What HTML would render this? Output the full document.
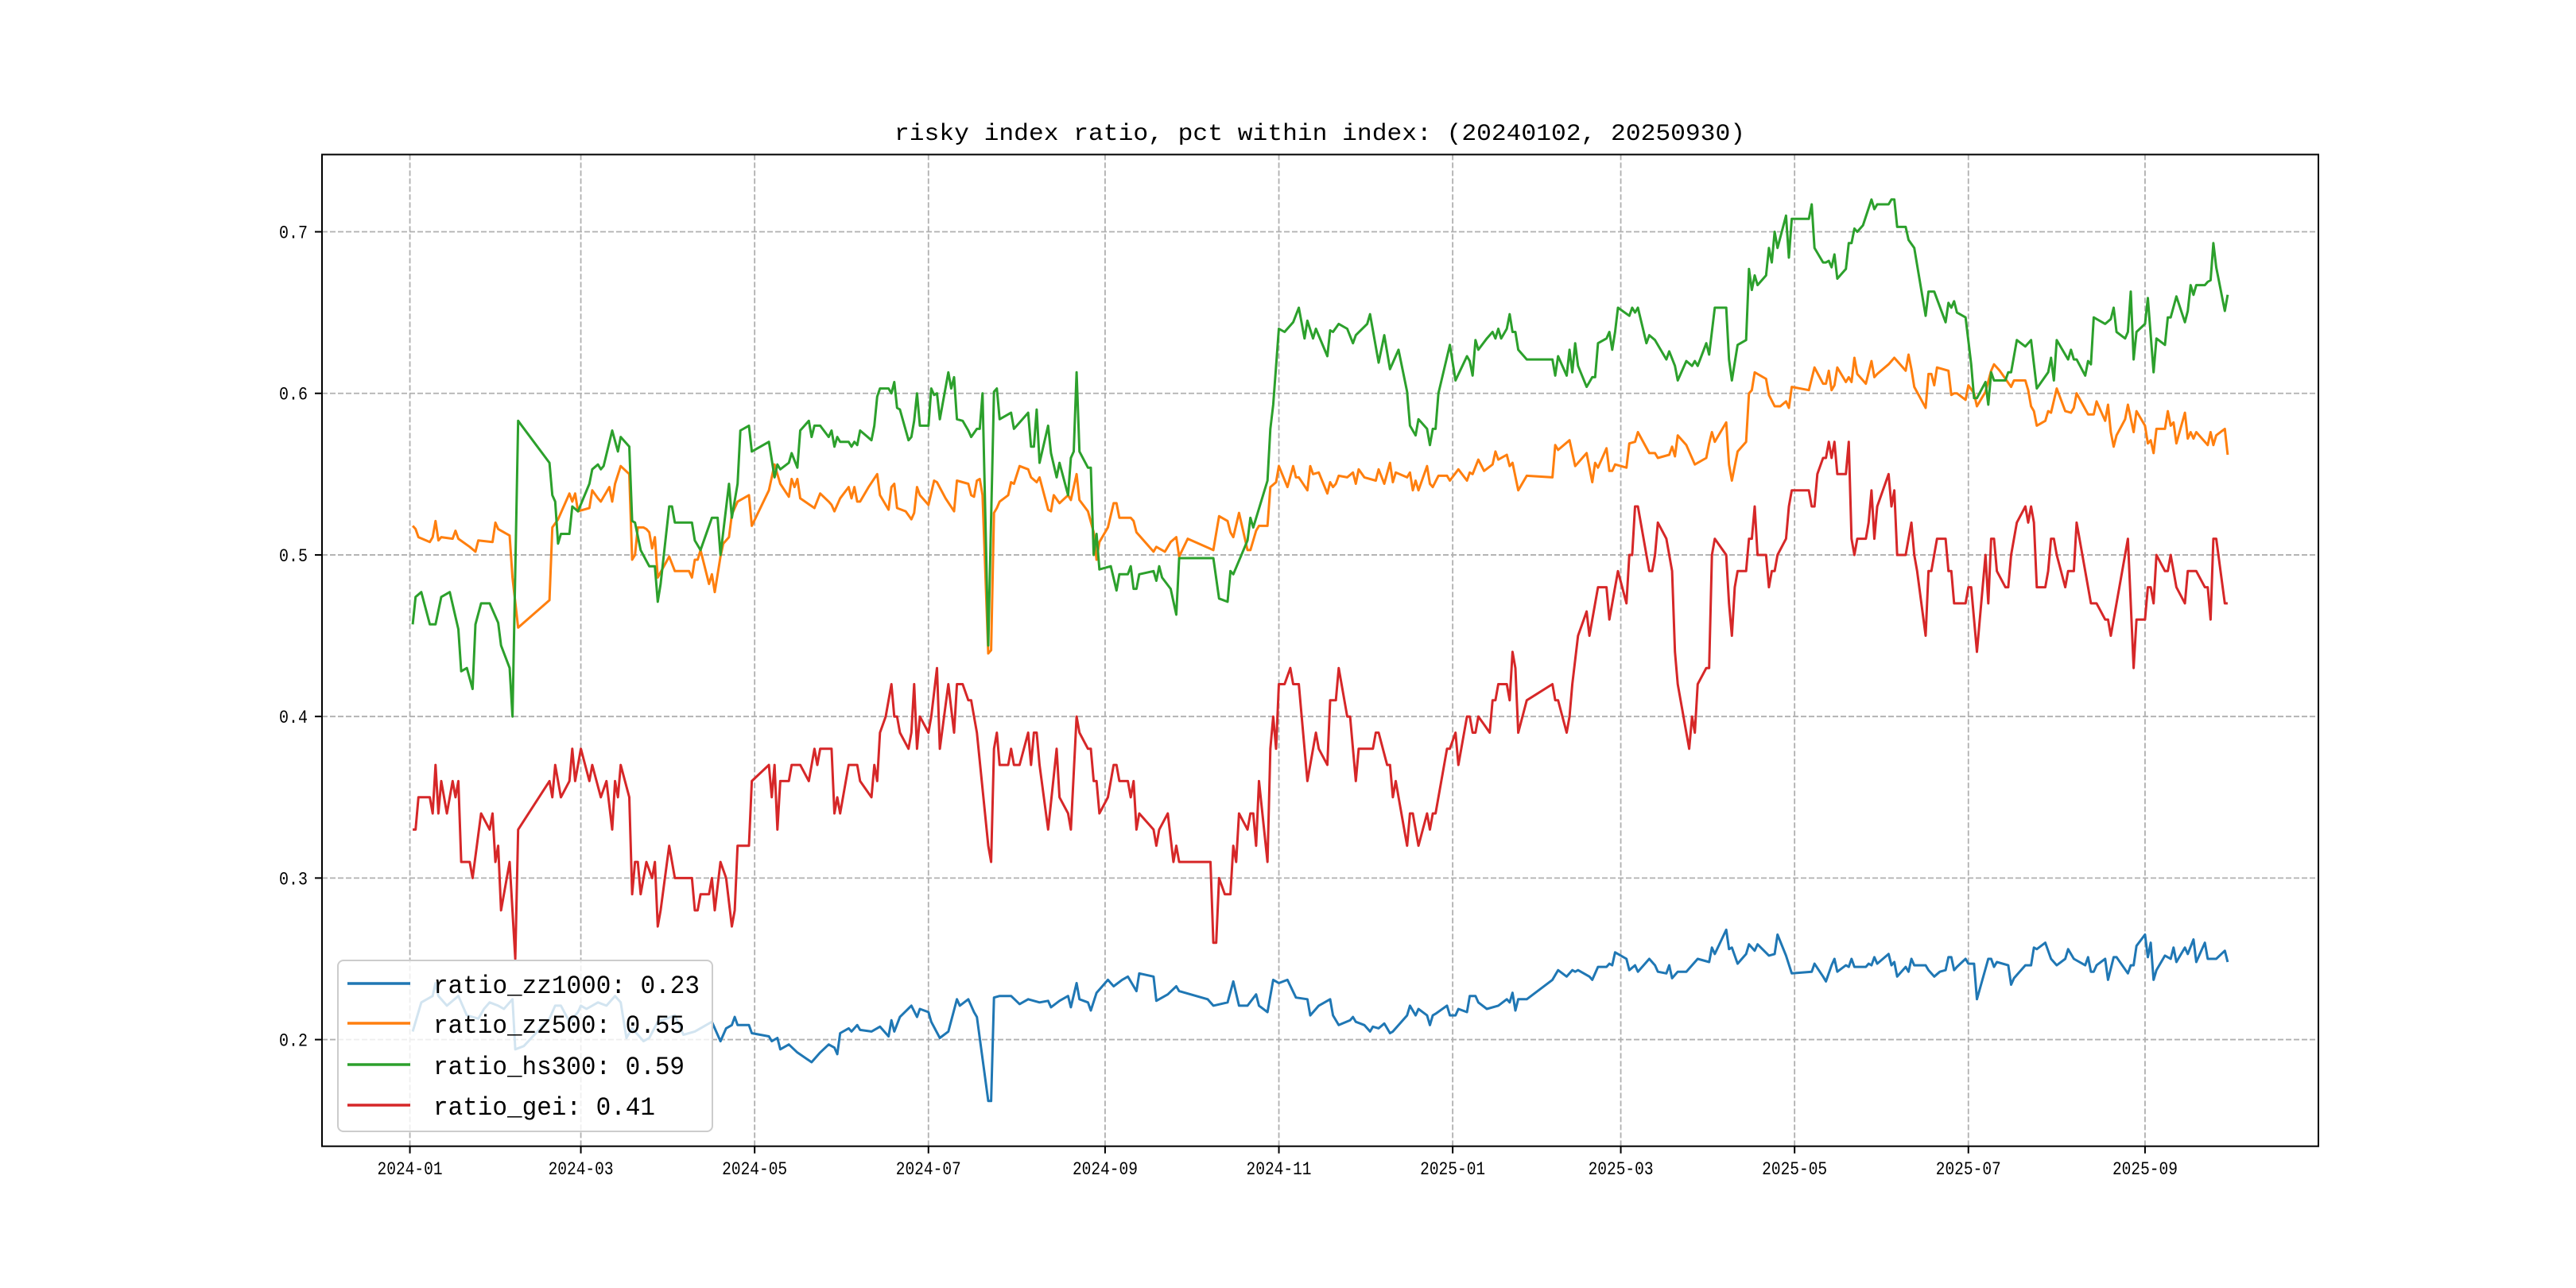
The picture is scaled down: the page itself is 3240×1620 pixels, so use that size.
<!DOCTYPE html>
<html>
<head>
<meta charset="utf-8">
<style>
  html,body{margin:0;padding:0;background:#fff;}
  #chart{display:block;}
  text{font-family:"Liberation Mono","WenQuanYi Zen Hei",monospace;fill:#000;}
</style>
</head>
<body>
<svg id="chart" width="3240" height="1620" viewBox="0 0 3240 1620" xmlns="http://www.w3.org/2000/svg">
  <rect x="0" y="0" width="3240" height="1620" fill="#ffffff"/>
  <text x="1660" y="176" font-size="30" text-anchor="middle" textLength="1070" lengthAdjust="spacingAndGlyphs">risky index ratio, pct within index: (20240102, 20250930)</text>
  <g id="grid"></g>
  <g id="plot" clip-path="url(#clip)"></g>
  <defs><clipPath id="clip"><rect x="405" y="194.4" width="2511" height="1247.3"/></clipPath></defs>
  <rect x="405" y="194.4" width="2511" height="1247.3" fill="none" stroke="#000" stroke-width="2"/>
  <g id="ticks"></g>
  <g id="legend"></g>
</svg>
<script>
// ---- data (days since 2024-01-01, values) ----
const xTickLabels = ["2024-01","2024-03","2024-05","2024-07","2024-09","2024-11","2025-01","2025-03","2025-05","2025-07","2025-09"];
const yTickValues = [0.2,0.3,0.4,0.5,0.6,0.7];
const yTickLabels = ["0.2","0.3","0.4","0.5","0.6","0.7"];
const seriesNames = ["ratio_zz1000","ratio_zz500","ratio_hs300","ratio_gei"];
const seriesLatest = ["0.23","0.55","0.59","0.41"];

const zz1000Days = [1,2,4,8,9,10,13,17,20,24,26,28,31,33,36,37,40,49,51,53,56,59,60,62,66,69,72,74,76,78,82,84,87,93,96,100,106,107,109,111,113,114,115,119,120,126,127,129,130,133,136,141,144,147,
149,150,151,154,155,157,158,162,165,168,169,170,172,176,178,179,182,183,186,189,192,193,196,198,199,203,204,205,207,211,214,217,221,224,225,228,231,232,234,235,238,239,241,245,247,250,252,255,256,261,262,266,269,270,280,282,287,289,291,294,297,298,301,303,305,308,311,315,316,319,322,
323,324,326,330,331,332,335,337,338,340,342,344,345,350,351,353,354,357,358,359,360,364,365,367,368,371,372,374,375,378,382,385,386,387,388,389,392,401,403,406,408,409,410,414,415,417,420,421,422,423,427,428,430,431,435,437,438,441,442,443,445,448,452,456,457,458,462,463,464,466,469,470,472,473,477,479,480,483,485,492,493,496,
497,499,500,501,504,505,506,507,511,512,513,514,515,519,520,521,522,525,526,527,528,532,533,535,537,539,540,541,542,543,546,547,549,550,554,555,556,557,561,562,563,567,569,570,571,574,576,578,581,582,584,588,589,590,591,592,595,596,598,599,603,604,605,606,609,610,611,612,613,616,618,619,620,623,624,626,627,630,631,633,634,637,638];
const zz1000Values = [.205,.211,.223,.227,.235,.227,.221,.227,.215,.213,.219,.223,.221,.219,.225,.194,.196,.213,.221,.221,.211,.217,.221,.219,.223,.221,.227,.223,.201,.207,.199,.201,.211,.215,.203,.205,.211,.207,.199,.207,.209,.214,.209,.209,.204,.202,.199,.201,.194,.197,.192,.186,.192,.197,
.195,.191,.204,.207,.205,.209,.206,.205,.208,.202,.212,.205,.214,.221,.214,.219,.217,.211,.201,.205,.225,.221,.225,.217,.214,.162,.162,.226,.227,.227,.222,.225,.223,.224,.220,.224,.227,.220,.235,.225,.223,.218,.229,.237,.233,.237,.239,.230,.241,.239,.224,.228,.233,.230,.225,.221,.223,.236,.221,.221,.228,.221,.217,.237,.235,.237,.226,.225,.215,.221,.224,
.225,.215,.209,.212,.214,.211,.209,.205,.208,.207,.210,.204,.205,.215,.221,.215,.219,.215,.209,.215,.216,.221,.215,.215,.219,.217,.227,.227,.223,.219,.221,.225,.223,.229,.218,.225,.225,.237,.243,.239,.243,.242,.243,.239,.237,.245,.245,.247,.246,.254,.250,.243,.246,.242,.250,.246,.242,.241,.246,.238,.242,.242,.250,.248,.257,.253,.268,.256,.257,.247,.253,.259,.255,.259,.252,.253,.265,.252,.241,.242,.247,.239,
.236,.246,.250,.242,.246,.245,.250,.245,.245,.247,.246,.251,.247,.253,.246,.248,.239,.245,.242,.250,.246,.246,.243,.239,.242,.243,.251,.251,.243,.245,.250,.247,.247,.225,.250,.250,.245,.248,.246,.234,.238,.246,.246,.257,.256,.260,.250,.246,.250,.256,.250,.246,.251,.242,.242,.246,.250,.237,.251,.251,.241,.246,.246,.258,.265,.251,.260,.237,.243,.252,.250,.257,.248,.257,.253,.262,.248,.260,.250,.250,.250,.255,.248];

const zz500Days = [1,2,3,7,8,9,10,11,15,16,17,21,23,24,29,30,31,35,36,38,49,50,52,56,57,58,59,63,64,66,67,70,71,72,74,77,78,79,80,82,83,84,85,86,87,91,93,98,99,100,101,102,105,106,107,109,110,112,113,115,119,120,126,128,130,133,134,135,136,137,142,144,147,
148,149,151,154,155,156,157,158,161,164,165,168,169,170,171,174,176,177,178,179,182,184,185,188,191,192,196,197,198,199,200,201,203,204,205,206,207,210,211,212,214,217,218,220,221,224,225,226,228,231,232,234,235,238,240,241,242,245,247,248,249,253,254,255,261,262,265,267,269,270,273,282,284,287,288,289,291,294,295,297,298,301,302,304,305,308,310,311,312,315,316,317,319,322,
323,324,325,326,329,331,332,333,335,339,340,342,344,345,346,350,351,352,353,354,357,358,359,361,364,365,368,371,372,373,375,377,380,381,382,385,386,387,389,392,401,402,403,407,409,413,415,416,417,420,421,422,423,427,428,430,431,435,437,438,442,443,444,445,448,451,455,456,457,458,462,463,464,466,469,470,471,472,476,477,479,481,483,484,485,491,493,496,
497,498,499,500,501,504,505,506,507,508,511,513,514,515,519,521,525,526,527,528,532,533,534,535,536,540,541,542,543,546,547,549,550,553,555,556,558,562,563,567,568,569,570,571,574,575,576,578,581,583,584,585,589,591,592,595,596,597,598,599,602,603,605,606,609,610,611,612,613,616,617,618,619,620,623,624,625,626,627,631,632,633,634,637,638];
const zz500Values = [.518,.516,.511,.508,.511,.521,.509,.511,.510,.515,.510,.505,.502,.509,.508,.520,.516,.512,.486,.455,.472,.517,.522,.538,.533,.538,.527,.529,.540,.535,.533,.542,.533,.544,.555,.550,.497,.500,.517,.517,.516,.514,.504,.511,.486,.499,.490,.490,.486,.497,.497,.503,.482,.488,.477,.499,.507,.511,.525,.533,.537,.518,.540,.556,.544,.536,.547,.542,.547,.535,.529,.538,.533,
.531,.527,.535,.542,.535,.542,.533,.533,.542,.550,.537,.528,.542,.544,.529,.527,.522,.526,.542,.537,.531,.546,.545,.535,.527,.546,.544,.537,.536,.546,.547,.537,.439,.441,.526,.529,.533,.537,.545,.544,.555,.553,.548,.545,.548,.528,.527,.537,.532,.537,.534,.550,.534,.527,.514,.497,.508,.517,.532,.532,.523,.523,.521,.514,.502,.505,.502,.508,.511,.499,.510,.503,.524,.521,.514,.511,.526,.503,.503,.515,.518,.518,.542,.545,.555,.542,.555,.548,.548,.540,.555,.550,.551,.538,
.545,.542,.544,.549,.548,.551,.544,.553,.548,.546,.553,.544,.557,.545,.551,.548,.551,.540,.546,.540,.555,.544,.542,.549,.549,.546,.553,.546,.551,.550,.559,.552,.556,.564,.559,.562,.555,.557,.540,.549,.548,.568,.565,.571,.555,.563,.545,.557,.554,.566,.552,.552,.556,.554,.569,.570,.576,.563,.563,.560,.562,.567,.561,.574,.568,.556,.560,.569,.576,.570,.582,.556,.546,.564,.570,.600,.602,.613,.609,.599,.592,.592,.595,.591,.604,.602,.616,.606,
.606,.614,.602,.605,.616,.607,.610,.607,.622,.612,.606,.620,.610,.612,.618,.622,.614,.624,.615,.604,.591,.612,.612,.605,.616,.614,.599,.600,.600,.596,.605,.600,.592,.601,.614,.618,.614,.604,.608,.608,.602,.592,.589,.580,.583,.589,.588,.603,.589,.588,.591,.600,.587,.587,.595,.583,.593,.576,.567,.574,.584,.593,.576,.589,.580,.569,.571,.563,.578,.578,.589,.580,.582,.569,.588,.572,.576,.572,.576,.568,.576,.568,.574,.578,.562];

const hs300Days = [1,2,4,7,9,11,14,17,18,20,22,23,25,28,31,32,35,36,38,49,50,51,52,53,56,57,59,63,64,66,67,68,71,73,74,77,78,79,81,84,86,87,88,91,92,93,99,100,102,106,108,109,112,113,115,116,119,120,126,128,129,130,133,134,136,137,140,141,142,144,147,
148,149,150,151,154,155,156,157,158,162,163,164,165,168,169,170,171,172,175,176,177,178,179,182,183,184,185,186,189,190,191,192,194,196,197,199,200,201,203,205,206,207,211,212,213,217,218,219,220,221,224,225,227,228,231,232,233,234,235,238,239,240,241,242,246,248,249,252,253,254,255,256,261,262,263,264,267,269,270,282,284,287,288,289,294,295,296,301,302,303,305,307,310,312,314,315,317,318,322,
323,324,326,329,331,332,336,337,340,342,344,345,347,350,351,353,354,357,358,359,360,361,365,367,371,372,373,374,375,378,380,381,382,383,385,386,387,388,389,392,401,402,403,406,407,408,409,410,413,415,416,417,420,421,422,423,424,428,429,430,431,434,435,437,441,442,444,445,448,450,451,452,455,456,458,462,463,464,466,469,470,471,472,473,476,477,478,479,480,483,484,485,491,492,493,496,
497,498,499,500,501,504,505,506,507,508,510,513,514,515,519,520,521,522,525,526,528,532,533,535,539,540,541,542,543,546,548,549,550,553,554,555,556,560,561,562,564,567,569,571,575,576,577,578,582,583,584,585,588,589,590,591,595,597,598,599,602,603,604,605,606,609,610,612,613,616,617,618,620,623,624,625,626,627,630,631,632,633,634,637,638];
const hs300Values = [.457,.474,.477,.457,.457,.474,.477,.454,.428,.430,.417,.457,.470,.470,.458,.444,.430,.400,.583,.557,.537,.533,.507,.513,.513,.530,.527,.544,.553,.556,.553,.555,.577,.564,.573,.567,.521,.520,.503,.493,.493,.471,.482,.530,.530,.520,.520,.509,.503,.523,.523,.500,.544,.523,.544,.577,.580,.564,.570,.548,.556,.553,.557,.563,.554,.577,.583,.573,.580,.580,.573,
.577,.567,.573,.570,.570,.567,.570,.568,.577,.571,.580,.598,.603,.603,.600,.607,.591,.590,.571,.573,.583,.600,.580,.580,.603,.599,.600,.584,.613,.603,.610,.584,.583,.577,.573,.578,.578,.600,.444,.601,.603,.584,.588,.578,.580,.588,.567,.567,.590,.557,.580,.563,.548,.557,.537,.560,.564,.613,.564,.554,.554,.500,.513,.491,.493,.478,.488,.488,.493,.479,.479,.488,.490,.484,.493,.486,.479,.463,.498,.498,.473,.471,.490,.488,.509,.523,.517,.546,.578,.593,.640,.638,.644,.653,.634,.645,.634,.640,.623,
.639,.638,.643,.640,.631,.636,.643,.649,.619,.636,.615,.619,.627,.601,.580,.574,.584,.578,.568,.578,.578,.600,.630,.608,.623,.620,.611,.633,.627,.634,.638,.634,.640,.634,.640,.649,.638,.638,.627,.621,.621,.611,.623,.611,.627,.613,.631,.617,.604,.610,.610,.631,.634,.638,.627,.638,.653,.648,.653,.650,.653,.631,.636,.633,.621,.626,.617,.608,.620,.617,.620,.617,.631,.624,.653,.653,.621,.608,.630,.633,.677,.664,.673,.667,.673,.690,.681,.700,.690,.710,.684,.708,.708,.717,.690,.681,
.681,.682,.678,.686,.671,.677,.693,.693,.702,.700,.704,.720,.714,.717,.717,.720,.720,.703,.703,.695,.690,.648,.663,.663,.644,.656,.653,.657,.650,.647,.618,.597,.597,.607,.593,.613,.608,.608,.613,.613,.633,.629,.633,.603,.613,.622,.608,.633,.621,.627,.621,.621,.611,.620,.618,.647,.643,.646,.653,.638,.634,.638,.663,.621,.638,.643,.659,.613,.634,.630,.647,.647,.660,.644,.651,.667,.661,.667,.667,.669,.670,.693,.678,.651,.661];

const geiDays = [1,2,3,7,8,9,10,11,13,15,16,17,18,21,22,25,28,29,30,31,32,35,37,38,49,50,51,53,56,57,58,60,63,64,67,69,71,72,73,74,77,78,79,80,81,83,85,86,87,88,91,93,99,100,101,102,105,106,107,109,111,113,114,115,119,120,126,127,128,129,130,133,134,137,140,142,143,144,147,
148,149,150,151,154,157,158,162,163,164,165,167,169,170,171,172,175,176,177,178,179,182,183,185,186,189,191,192,194,196,197,198,199,203,204,205,206,207,210,211,212,214,217,218,219,220,221,224,227,228,231,232,234,235,238,239,240,241,242,245,247,248,249,252,253,254,255,256,261,262,263,266,268,269,270,281,282,283,284,286,288,289,290,291,294,295,296,297,298,301,302,303,304,305,307,309,310,312,315,318,319,322,
323,325,326,329,330,332,333,338,339,340,343,344,345,346,350,351,352,354,357,358,359,360,364,365,367,368,371,372,373,374,375,377,379,380,381,382,385,386,387,388,389,392,401,402,403,406,407,408,410,413,414,417,420,421,424,427,428,429,430,431,435,436,437,438,441,443,444,445,449,450,451,452,455,456,457,458,462,463,464,465,466,469,470,471,472,473,476,477,478,479,480,483,484,485,491,492,493,494,496,
497,498,499,500,501,504,505,506,507,508,511,512,513,514,515,519,520,521,522,525,527,528,529,532,533,534,536,539,540,541,542,546,547,548,550,553,554,555,556,557,560,561,562,564,567,568,569,570,571,574,575,576,577,578,581,582,584,585,590,592,595,596,597,603,605,606,609,610,611,612,613,616,617,618,620,623,624,627,630,631,632,633,634,637,638];
const geiValues = [.33,.33,.35,.35,.34,.37,.34,.36,.34,.36,.35,.36,.31,.31,.30,.34,.33,.34,.31,.32,.28,.31,.25,.33,.36,.35,.37,.35,.36,.38,.36,.38,.36,.37,.35,.36,.33,.36,.35,.37,.35,.29,.31,.31,.29,.31,.30,.31,.27,.28,.32,.30,.30,.28,.28,.29,.29,.30,.28,.31,.30,.27,.28,.32,.32,.36,.37,.35,.37,.33,.36,.36,.37,.37,.36,.38,.37,.38,.38,
.38,.34,.35,.34,.37,.37,.36,.35,.37,.36,.39,.40,.42,.40,.40,.39,.38,.39,.42,.38,.40,.39,.40,.43,.38,.42,.39,.42,.42,.41,.41,.40,.39,.32,.31,.38,.39,.37,.37,.38,.37,.37,.39,.37,.39,.39,.37,.33,.38,.35,.34,.33,.40,.39,.38,.38,.36,.36,.34,.35,.37,.37,.36,.36,.35,.36,.33,.34,.33,.32,.33,.34,.31,.32,.31,.31,.26,.26,.30,.29,.29,.32,.31,.34,.33,.34,.34,.32,.36,.31,.38,.40,.38,.42,.42,.43,.42,.42,.36,.39,.38,.37,
.41,.41,.43,.40,.40,.36,.38,.38,.39,.39,.37,.37,.35,.36,.32,.34,.34,.32,.34,.33,.34,.34,.38,.38,.39,.37,.40,.40,.39,.39,.40,.395,.39,.41,.41,.42,.42,.41,.44,.43,.39,.41,.42,.41,.41,.39,.40,.42,.45,.465,.45,.48,.48,.46,.49,.47,.50,.50,.53,.53,.49,.49,.50,.52,.51,.49,.44,.42,.38,.40,.39,.42,.43,.43,.50,.51,.50,.47,.45,.48,.49,.49,.51,.51,.53,.50,.50,.48,.49,.49,.50,.51,.53,.54,.54,.53,.53,.55,.56,
.56,.57,.56,.57,.55,.55,.57,.51,.50,.51,.51,.52,.54,.51,.53,.55,.53,.54,.50,.50,.52,.50,.49,.45,.49,.49,.51,.51,.49,.49,.47,.47,.48,.48,.44,.50,.47,.51,.51,.49,.48,.48,.50,.52,.53,.52,.53,.52,.48,.48,.49,.51,.51,.50,.48,.49,.49,.52,.47,.47,.46,.46,.45,.51,.43,.46,.46,.48,.48,.47,.50,.49,.49,.50,.48,.47,.49,.49,.48,.48,.46,.51,.51,.47,.47];

// ---- scales ----
const AX = {left:405, right:2916, top:194.4, bottom:1441.7};
const X_MIN = -30.85, X_MAX = 669.85, Y_MIN = 0.134, Y_MAX = 0.7478;
function xScale(day){ return AX.left + (day - X_MIN) / (X_MAX - X_MIN) * (AX.right - AX.left); }
function yScale(v){ return AX.bottom - (v - Y_MIN) / (Y_MAX - Y_MIN) * (AX.bottom - AX.top); }
function labelToDay(lbl){ const p = lbl.split('-'); return (Date.UTC(+p[0], +p[1]-1, 1) - Date.UTC(2024,0,1)) / 86400000; }

const NS = "http://www.w3.org/2000/svg";
function mk(tag, parent){ const e = document.createElementNS(NS, tag); parent.appendChild(e); return e; }
const grid = document.getElementById('grid');
const ticks = document.getElementById('ticks');
const plot = document.getElementById('plot');
const legend = document.getElementById('legend');

// grid + ticks
xTickLabels.forEach(function(lbl){
  const x = xScale(labelToDay(lbl));
  const g = mk('line', grid);
  
  
  g.setAttribute('x1', x); g.setAttribute('x2', x); g.setAttribute('y1', AX.top); g.setAttribute('y2', AX.bottom);
  g.setAttribute('stroke', '#b0b0b0'); g.setAttribute('stroke-width', '1.8'); g.setAttribute('stroke-dasharray', '7,3');
  const t = mk('line', ticks);
  
  
  t.setAttribute('x1', x); t.setAttribute('x2', x); t.setAttribute('y1', AX.bottom); t.setAttribute('y2', AX.bottom + 9);
  t.setAttribute('stroke', '#000'); t.setAttribute('stroke-width', '2');
  const tx = mk('text', ticks);
  
  
  tx.setAttribute('x', x); tx.setAttribute('y', 1477); tx.setAttribute('font-size', '23');
  tx.setAttribute('text-anchor', 'middle'); tx.setAttribute('textLength', '82'); tx.setAttribute('lengthAdjust', 'spacingAndGlyphs');
  tx.textContent = lbl;
});
yTickValues.forEach(function(v, i){
  const y = yScale(v);
  const g = mk('line', grid);
  
  
  g.setAttribute('x1', AX.left); g.setAttribute('x2', AX.right); g.setAttribute('y1', y); g.setAttribute('y2', y);
  g.setAttribute('stroke', '#b0b0b0'); g.setAttribute('stroke-width', '1.8'); g.setAttribute('stroke-dasharray', '7,3');
  const t = mk('line', ticks);
  
  
  t.setAttribute('x1', AX.left - 9); t.setAttribute('x2', AX.left); t.setAttribute('y1', y); t.setAttribute('y2', y);
  t.setAttribute('stroke', '#000'); t.setAttribute('stroke-width', '2');
  const tx = mk('text', ticks);
  
  
  tx.setAttribute('x', 387); tx.setAttribute('y', y + 8); tx.setAttribute('font-size', '23');
  tx.setAttribute('text-anchor', 'end'); tx.setAttribute('textLength', '36'); tx.setAttribute('lengthAdjust', 'spacingAndGlyphs');
  tx.textContent = yTickLabels[i];
});

// series
const seriesDays = [zz1000Days, zz500Days, hs300Days, geiDays];
const seriesValues = [zz1000Values, zz500Values, hs300Values, geiValues];
const seriesColors = ["#1f77b4","#ff7f0e","#2ca02c","#d62728"];
seriesNames.forEach(function(name, s){
  const days = seriesDays[s], vals = seriesValues[s];
  let d = '';
  const n = Math.min(days.length, vals.length);
  for (let i = 0; i < n; i++){
    d += (i ? 'L' : 'M') + xScale(days[i]).toFixed(1) + ',' + yScale(vals[i]).toFixed(1);
  }
  const p = mk('path', plot);
  
  
  p.setAttribute('d', d); p.setAttribute('fill', 'none'); p.setAttribute('stroke', seriesColors[s]);
  p.setAttribute('stroke-width', '3'); p.setAttribute('stroke-linejoin', 'round');
});

// legend
const lb = mk('rect', legend);


lb.setAttribute('x', 425); lb.setAttribute('y', 1208); lb.setAttribute('width', 471); lb.setAttribute('height', 215);
lb.setAttribute('rx', 7); lb.setAttribute('fill', 'rgba(255,255,255,0.8)'); lb.setAttribute('stroke', '#cccccc'); lb.setAttribute('stroke-width', '2');
const rowY = [1237, 1287, 1339, 1390];
seriesNames.forEach(function(name, s){
  const ln = mk('line', legend);
  
  
  ln.setAttribute('x1', 437); ln.setAttribute('x2', 516); ln.setAttribute('y1', rowY[s]); ln.setAttribute('y2', rowY[s]);
  ln.setAttribute('stroke', seriesColors[s]); ln.setAttribute('stroke-width', '3.5');
  const tx = mk('text', legend);
  
  
  const label = name + ': ' + seriesLatest[s];
  tx.setAttribute('x', 545); tx.setAttribute('y', rowY[s] + 12); tx.setAttribute('font-size', '32');
  tx.setAttribute('textLength', (label.length * 18.6).toFixed(0)); tx.setAttribute('lengthAdjust', 'spacingAndGlyphs');
  tx.textContent = label;
});
</script>
</body>
</html>
